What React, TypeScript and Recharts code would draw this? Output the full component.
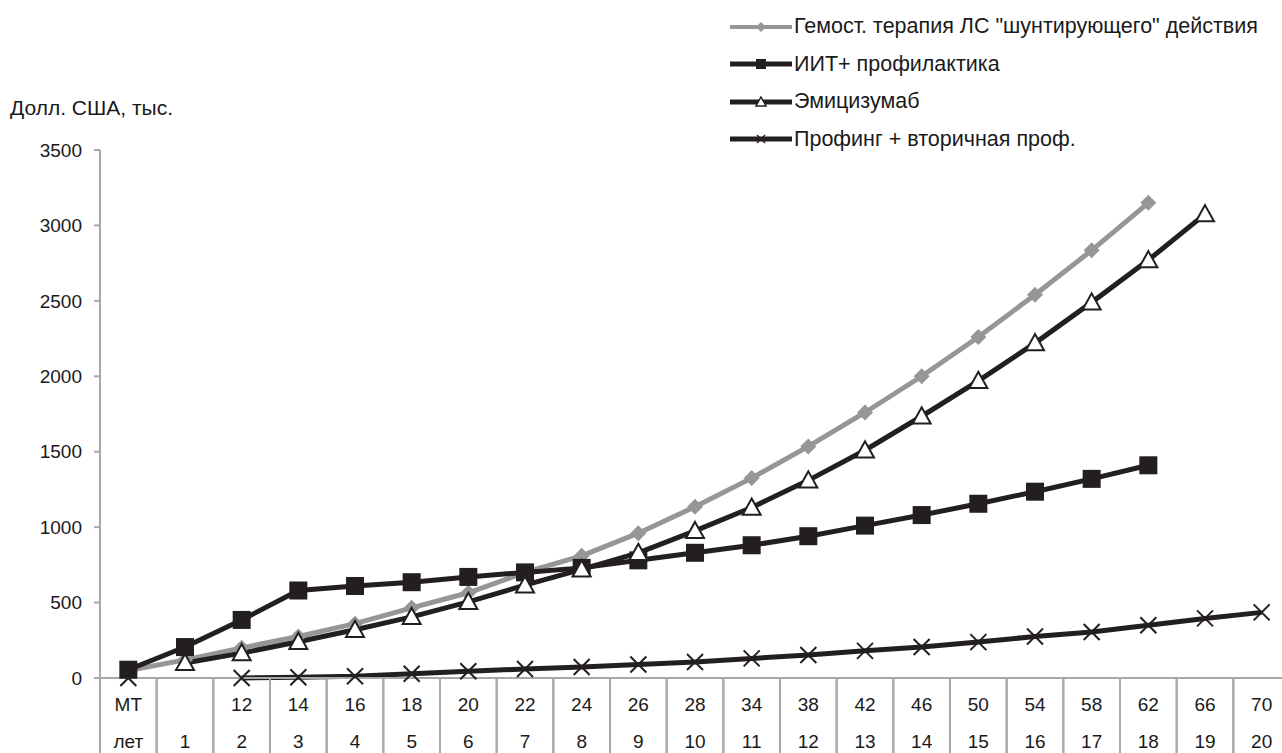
import React from 'react';
import { LineChart, Line, XAxis, YAxis } from 'recharts';

const topLabels = ['МТ', '', '12', '14', '16', '18', '20', '22', '24', '26', '28', '34', '38', '42', '46', '50', '54', '58', '62', '66', '70'];
const bottomLabels = ['лет', '1', '2', '3', '4', '5', '6', '7', '8', '9', '10', '11', '12', '13', '14', '15', '16', '17', '18', '19', '20'];

const hemostatic = [50, 120, 200, 275, 360, 465, 565, 700, 810, 960, 1135, 1325, 1535, 1760, 2000, 2260, 2540, 2835, 3150, null, null];
const iit = [55, 205, 385, 580, 610, 635, 670, 700, 730, 780, 830, 880, 940, 1010, 1080, 1155, 1235, 1320, 1410, null, null];
const emicizumab = [null, 100, 165, 240, 320, 405, 505, 615, 720, 830, 975, 1130, 1310, 1510, 1735, 1970, 2220, 2490, 2770, 3075, null];
const profing = [0, null, 0, 5, 12, 28, 45, 60, 73, 90, 106, 130, 152, 180, 205, 238, 275, 305, 350, 395, 435];

const yTicks = [0, 500, 1000, 1500, 2000, 2500, 3000, 3500];

const seriesNames = [
  'Гемост. терапия ЛС "шунтирующего" действия',
  'ИИТ+ профилактика',
  'Эмицизумаб',
  'Профинг + вторичная проф.',
];

const data = topLabels.map((t, i) => ({
  top: t,
  bottom: bottomLabels[i],
  hemostatic: hemostatic[i],
  iit: iit[i],
  emicizumab: emicizumab[i],
  profing: profing[i],
}));

const GRAY = '#969696';
const BLACK = '#231f20';
const FONT = '"Liberation Sans", Arial, sans-serif';
const TEXT = '#1a1a1a';

const CHART_W = 1290;
const Y_W = 100;
const BAND = (CHART_W - Y_W) / topLabels.length;

const Diamond = ({ cx, cy, s = 8 }: any) => (
  <polygon points={`${cx},${cy - s} ${cx + s},${cy} ${cx},${cy + s} ${cx - s},${cy}`} fill={GRAY} />
);
const Square = ({ cx, cy, s = 9 }: any) => (
  <rect x={cx - s} y={cy - s} width={s * 2} height={s * 2} fill={BLACK} />
);
const Triangle = ({ cx, cy, s = 9, sw = 2 }: any) => (
  <polygon points={`${cx},${cy - s} ${cx + s},${cy + s * 0.8} ${cx - s},${cy + s * 0.8}`} fill="#fff" stroke={BLACK} strokeWidth={sw} />
);
const Cross = ({ cx, cy, s = 8, sw = 2 }: any) => (
  <g stroke={BLACK} strokeWidth={sw}>
    <line x1={cx - s} y1={cy - s} x2={cx + s} y2={cy + s} />
    <line x1={cx - s} y1={cy + s} x2={cx + s} y2={cy - s} />
  </g>
);

const makeDot = (Shape: any) => (props: any) => {
  const { cx, cy, index, value } = props;
  if (cx == null || cy == null || value == null || (Array.isArray(value) && value[1] == null)) {
    return <g key={`e-${index}`} />;
  }
  return <Shape key={`d-${index}`} cx={cx} cy={cy} />;
};

const XTick = (props: any) => {
  const { x, y, payload } = props;
  const i = payload.index;
  const left = x - BAND / 2;
  return (
    <g>
      <line x1={left} y1={y} x2={left} y2={y + 80} stroke="#a8a8a8" strokeWidth={2} />
      <line x1={left + BAND} y1={y} x2={left + BAND} y2={y + 80} stroke="#a8a8a8" strokeWidth={2} />
      <text x={x} y={y + 33} textAnchor="middle" fontSize={19} fill={TEXT} fontFamily={FONT}>
        {topLabels[i]}
      </text>
      <text x={x} y={y + 70} textAnchor="middle" fontSize={19} fill={TEXT} fontFamily={FONT}>
        {bottomLabels[i]}
      </text>
    </g>
  );
};

const legendIcons = [
  { color: GRAY, width: 4, Shape: (p: any) => <Diamond {...p} s={5} /> },
  { color: BLACK, width: 5, Shape: (p: any) => <Square {...p} s={5} /> },
  { color: BLACK, width: 5, Shape: (p: any) => <Triangle {...p} s={5} sw={1.5} /> },
  { color: BLACK, width: 5, Shape: (p: any) => <Cross {...p} s={4} sw={1.5} /> },
];

const ChartLegend = () => (
  <div style={{ position: 'absolute', left: 728, top: 8 }}>
    {seriesNames.map((name, i) => {
      const ic = legendIcons[i];
      return (
        <div key={name} style={{ display: 'flex', alignItems: 'center', height: 37.5 }}>
          <svg width={66} height={20}>
            <line x1={2} y1={10} x2={64} y2={10} stroke={ic.color} strokeWidth={ic.width} />
            <ic.Shape cx={33} cy={10} />
          </svg>
          <span style={{ fontFamily: FONT, fontSize: 21.5, color: TEXT, whiteSpace: 'nowrap' }}>{name}</span>
        </div>
      );
    })}
  </div>
);

const App = () => {
  return (
    <div style={{ position: 'absolute', left: 0, top: 0, width: 1282, height: 753, overflow: 'hidden', background: '#fff' }}>
      <div style={{ position: 'absolute', left: 10, top: 96, fontFamily: FONT, fontSize: 21, color: TEXT }}>
        Долл. США, тыс.
      </div>
      <ChartLegend />
      <LineChart width={CHART_W} height={753} data={data} margin={{ top: 150, right: 0, bottom: 0, left: 0 }}>
        <XAxis
          dataKey="top"
          height={75}
          interval={0}
          padding={{ left: BAND / 2, right: BAND / 2 }}
          tickLine={false}
          tickSize={0}
          tickMargin={0}
          axisLine={{ stroke: '#a8a8a8', strokeWidth: 2 }}
          tick={<XTick />}
        />
        <YAxis
          width={Y_W}
          domain={[0, 3500]}
          ticks={yTicks}
          interval={0}
          tickSize={6}
          tickMargin={12}
          axisLine={{ stroke: '#a8a8a8', strokeWidth: 2 }}
          tickLine={{ stroke: '#a8a8a8', strokeWidth: 2 }}
          tick={{ fontSize: 19, fill: TEXT, fontFamily: FONT }}
        />
        <Line dataKey="hemostatic" stroke={GRAY} strokeWidth={5} dot={makeDot(Diamond)} activeDot={false} isAnimationActive={false} />
        <Line dataKey="iit" stroke={BLACK} strokeWidth={5} dot={makeDot(Square)} activeDot={false} isAnimationActive={false} />
        <Line dataKey="emicizumab" stroke={BLACK} strokeWidth={5} dot={makeDot(Triangle)} activeDot={false} isAnimationActive={false} />
        <Line dataKey="profing" stroke={BLACK} strokeWidth={5} dot={makeDot(Cross)} activeDot={false} isAnimationActive={false} />
      </LineChart>
    </div>
  );
};

export default App;
